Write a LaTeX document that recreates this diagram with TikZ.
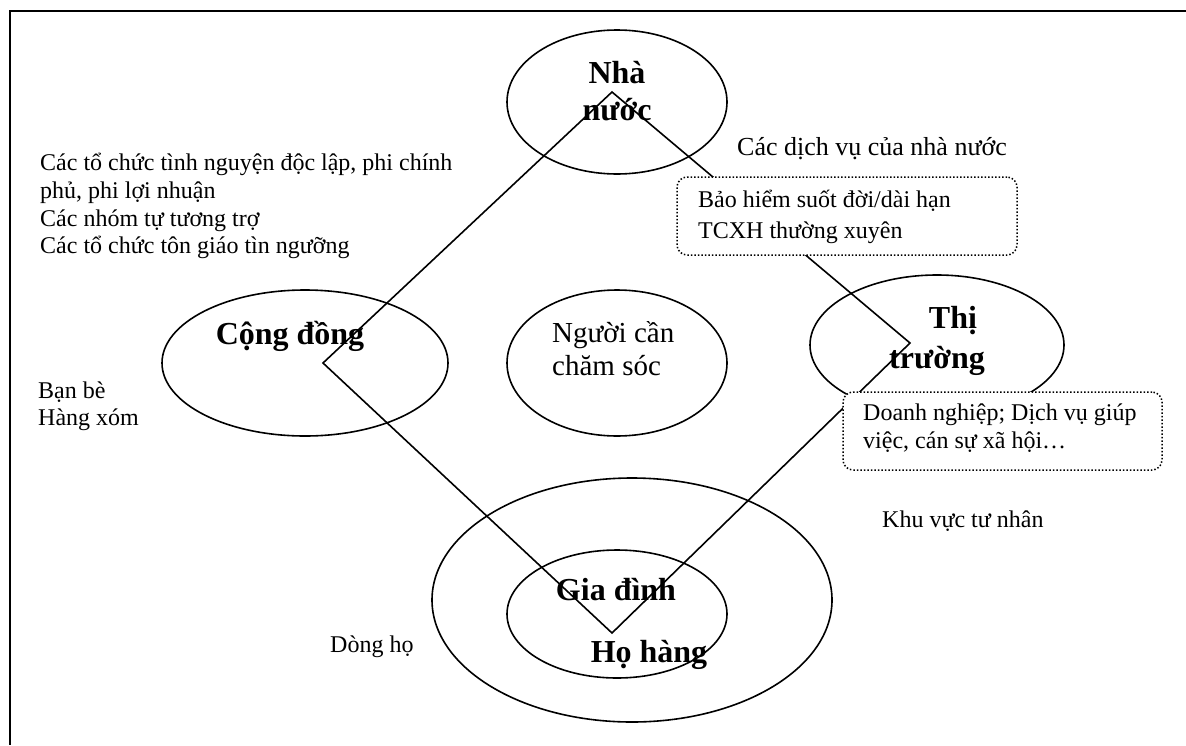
\documentclass[tikz,border=0pt]{standalone}
\usepackage{fontspec}
\setmainfont{Liberation Serif}
\usetikzlibrary{shapes.geometric}
\begin{document}
\begin{tikzpicture}[x=1pt,y=-1pt,
  ell/.style={draw, ellipse, line width=1.6pt, inner sep=0pt},
  note/.style={font=\fontsize{24}{27.7}\selectfont, anchor=base west, inner sep=0pt},
  lab/.style={font=\bfseries\fontsize{32}{38}\selectfont, anchor=base, inner sep=0pt},
  txt/.style={font=\fontsize{29}{33}\selectfont, anchor=base west, inner sep=0pt},
  dbox/.style={draw, fill=white, dotted, line width=1.5pt, rounded corners=10pt, inner sep=0pt},
  link/.style={line width=1.6pt}]
\useasboundingbox (0,0) rectangle (1186,745);
% frame
\coordinate (f1) at (1186,11);
\coordinate (f2) at (10,11);
\coordinate (f3) at (10,745);
\draw[line width=2.2pt] (f1) -- (f2) -- (f3);
% ellipses
\node[ell, minimum width=220pt, minimum height=144pt] (state) at (617,102) {};
\node[ell, minimum width=286pt, minimum height=146pt] (comm) at (305,363) {};
\node[ell, minimum width=220pt, minimum height=146pt] (person) at (617,363) {};
\node[ell, minimum width=254pt, minimum height=140pt] (market) at (937,345) {};
\node[ell, minimum width=400pt, minimum height=244pt] (clan) at (632,600) {};
\node[ell, minimum width=220pt, minimum height=128pt] (family) at (617,614) {};
% diamond
\coordinate (dt) at (612,92);
\coordinate (dl) at (323,363);
\coordinate (db) at (612,633);
\coordinate (dr) at (910,343);
\draw[link] (dt) -- (dl) -- (db) -- (dr) -- cycle;
% labels in ellipses
\node[lab] (l1a) at (617,83) {Nhà};
\node[lab] (l1b) at (617,120) {nước};
\node[lab] (l2) at (290,344) {Cộng đồng};
\node[txt] (l3a) at (552,342) {Người cần};
\node[txt] (l3b) at (552,375) {chăm sóc};
\node[lab] (l4a) at (953,328) {Thị};
\node[lab] (l4b) at (937,368) {trường};
\node[lab] (l5a) at (616,600) {Gia đình};
\node[lab] (l5b) at (649,662) {Họ hàng};
% notes
\node[note] (n1) at (40,170) {Các tổ chức tình nguyện độc lập, phi chính};
\node[note] (n2) at (40,198) {phủ, phi lợi nhuận};
\node[note] (n3) at (40,226) {Các nhóm tự tương trợ};
\node[note] (n4) at (40,253) {Các tổ chức tôn giáo tìn ngưỡng};
\node[note] (n5) at (38,398) {Bạn bè};
\node[note] (n6) at (38,425) {Hàng xóm};
\node[note] (n7) at (330,652) {Dòng họ};
\node[note, font=\fontsize{26}{30}\selectfont] (n8) at (737,155) {Các dịch vụ của nhà nước};
\node[note] (n9) at (882,527) {Khu vực tư nhân};
% dotted boxes
\node[dbox, minimum width=340pt, minimum height=78pt] (box1) at (847,216) {};
\node[note] (b1a) at (698,207) {Bảo hiểm suốt đời/dài hạn};
\node[note] (b1b) at (698,238) {TCXH thường xuyên};
\node[dbox, minimum width=319pt, minimum height=78pt] (box2) at (1002.5,431) {};
\node[note] (b2a) at (863,420) {Doanh nghiệp; Dịch vụ giúp};
\node[note] (b2b) at (863,448) {việc, cán sự xã hội…};
\end{tikzpicture}
\end{document}
